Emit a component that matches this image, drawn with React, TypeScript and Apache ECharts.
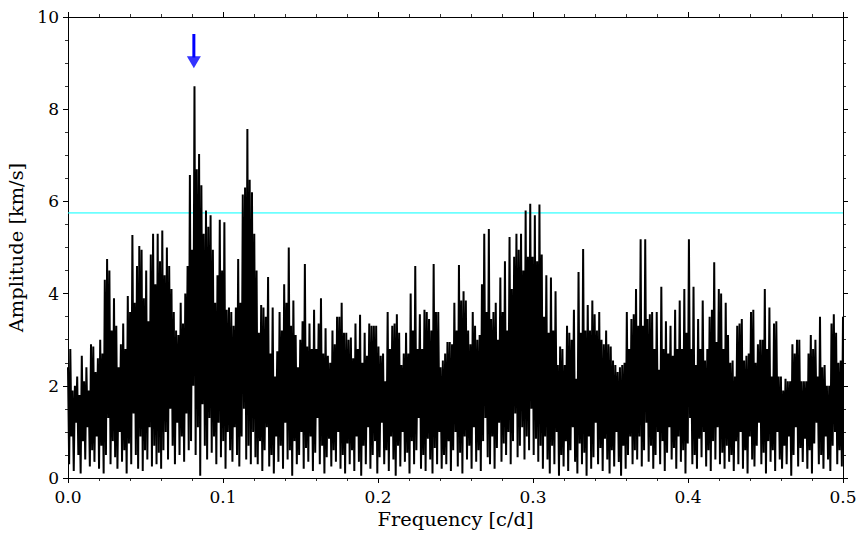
import React, { useEffect, useRef } from "react";
import * as echarts from "echarts";

// Local maxima of the amplitude spectrum (km/s), read left to right, 0 .. 0.5 c/d
const peaks: number[] = [
  // 0.000 - 0.060
  2.4, 2.8, 1.9, 2.0, 2.2, 1.8, 2.65, 2.1, 2.4, 1.9,
  2.9, 2.85, 2.3, 2.6, 3.0, 2.7, 4.3, 4.75, 4.5, 3.2,
  3.9, 3.3, 2.4, 2.9, 3.35, 2.8, 3.95, 3.6, 5.27, 3.8,
  4.6, 5.03, 4.95, 3.9, 4.5, 3.4, 4.85, 5.3, 4.2, 5.3, 4.7,
  // 0.061 - 0.120
  5.37, 4.4, 5.0, 4.6, 4.1, 3.6, 3.2, 3.1, 3.8, 3.35,
  4.0, 4.6, 6.57, 4.95, 8.5, 6.7, 7.03, 6.35, 5.3, 5.8,
  5.45, 5.7, 4.95, 3.8, 4.4, 5.6, 4.5, 5.55, 3.65, 3.7,
  3.6, 3.3, 3.7, 4.75, 3.8, 6.15, 6.3, 7.57, 6.47, 6.2, 5.3,
  // 0.122 - 0.181
  4.5, 3.15, 3.75, 3.7, 3.5, 4.36, 2.7, 3.7, 2.2, 2.75,
  3.6, 3.2, 4.2, 3.8, 5.0, 3.3, 3.85, 3.1, 2.4, 3.0,
  3.4, 4.64, 2.85, 3.35, 2.8, 3.65, 2.8, 3.35, 3.9, 2.7,
  3.25, 2.65, 2.5, 3.2, 2.9, 3.5, 3.5, 3.8, 3.15, 3.15, 3.0,
  // 0.182 - 0.242
  3.05, 2.6, 3.35, 2.8, 3.54, 2.5, 3.15, 2.65, 3.35, 3.3,
  3.3, 3.3, 2.85, 2.65, 2.7, 2.1, 3.6, 2.8, 3.3, 3.35,
  3.55, 3.15, 2.45, 2.7, 3.15, 2.7, 4.0, 3.2, 4.6, 2.8,
  3.55, 2.8, 3.65, 3.6, 3.45, 3.2, 4.64, 3.6, 3.6, 2.4, 2.55,
  // 0.243 - 0.304
  2.7, 2.95, 2.95, 2.9, 3.8, 3.2, 4.62, 3.85, 4.05, 3.85,
  3.2, 2.9, 3.6, 3.3, 3.0, 3.1, 4.2, 5.3, 3.6, 5.4,
  3.45, 3.6, 3.8, 3.0, 4.35, 3.6, 4.7, 3.2, 5.23, 4.1,
  4.8, 5.3, 4.95, 5.3, 4.5, 5.8, 4.8, 5.95, 4.8, 5.7,
  4.7, 5.93,
  // 0.306 - 0.365
  4.85, 3.5, 4.4, 3.15, 4.35, 3.2, 4.05, 2.45, 2.85, 2.8,
  2.45, 3.3, 3.15, 3.0, 3.65, 2.15, 4.47, 3.15, 4.97, 3.2,
  3.75, 3.2, 3.85, 3.55, 3.2, 3.6, 3.0, 2.9, 3.2, 2.9,
  2.85, 2.55, 2.45, 2.3, 2.4, 2.45, 2.5, 3.6, 2.8, 3.45, 3.55,
  // 0.366 - 0.426
  4.1, 3.3, 5.18, 3.3, 5.18, 3.45, 3.55, 3.6, 2.8, 3.6,
  2.35, 4.15, 2.8, 3.4, 2.7, 3.3, 2.65, 3.65, 2.8, 3.85,
  2.8, 4.1, 3.15, 5.18, 2.8, 4.15, 2.45, 3.45, 2.8, 3.85,
  2.55, 2.8, 3.5, 3.65, 4.68, 2.95, 4.1, 4.0, 2.8, 3.8, 3.1,
  // 0.427 - 0.500
  2.5, 2.55, 2.2, 3.3, 3.35, 3.45, 2.55, 2.65, 2.7, 3.6,
  3.65, 2.5, 2.9, 3.0, 3.0, 4.1, 2.8, 3.7, 2.2, 3.35,
  3.4, 2.2, 2.2, 1.9, 2.15, 2.1, 2.1, 2.9, 2.7, 3.0,
  3.0, 2.1, 2.1, 2.1, 2.7, 3.1, 2.8, 3.0, 2.2, 3.5,
  2.4, 2.45, 2.0, 2.0, 3.35, 3.55, 3.15, 2.5, 2.55, 3.5,
];

// Local minima between consecutive maxima (km/s)
const troughs: number[] = [
  0.3, 0.9, 0.15, 1.2, 0.5, 0.1, 0.8, 0.4, 1.1, 0.25,
  0.6, 0.35, 0.9, 0.2, 0.7, 0.1, 0.5, 1.3, 0.3, 0.8,
  0.45, 0.2, 1.0, 0.35, 0.6, 0.1, 0.75, 0.3, 1.4, 0.5,
  0.2, 0.9, 0.15, 0.6, 0.4, 1.1, 0.25, 0.7, 0.3, 0.55, 0.2,

  0.6, 1.0, 0.4, 1.5, 0.7, 0.3, 1.2, 0.5, 0.9, 0.35,
  1.4, 0.6, 0.8, 2.0, 0.5, 1.1, 0.05, 1.6, 0.7, 0.4,
  1.3, 0.55, 0.9, 0.3, 1.2, 0.45, 0.8, 0.2, 1.0, 0.6,
  0.35, 1.1, 0.5, 0.25, 0.9, 1.5, 0.4, 0.7, 0.3, 1.0, 0.45,

  0.3, 0.8, 0.15, 0.6, 1.1, 0.25, 0.5, 0.1, 0.9, 0.35,
  0.7, 0.2, 1.2, 0.4, 0.6, 0.05, 0.8, 0.3, 0.5, 1.0,
  0.2, 0.65, 0.35, 0.9, 0.15, 0.55, 1.3, 0.3, 0.7, 0.1,
  0.45, 0.85, 0.25, 0.6, 0.35, 1.0, 0.2, 0.5, 0.1, 0.75, 0.3,

  0.6, 0.15, 0.9, 0.35, 0.05, 0.7, 0.3, 1.1, 0.2, 0.5,
  0.8, 0.1, 0.45, 1.2, 0.3, 0.6, 0.15, 0.9, 0.4, 0.05,
  0.7, 0.25, 1.0, 0.35, 0.55, 0.1, 0.8, 0.3, 0.6, 1.3,
  0.2, 0.5, 0.15, 0.85, 0.4, 0.1, 0.65, 0.3, 1.0, 0.2, 0.5,

  0.3, 0.8, 0.15, 0.6, 1.0, 0.25, 0.55, 0.1, 0.9, 0.4,
  0.7, 0.2, 1.1, 0.35, 0.6, 0.15, 0.8, 1.3, 0.45, 0.3,
  0.9, 0.2, 0.65, 1.2, 0.35, 0.75, 0.5, 1.0, 0.3, 0.8,
  1.4, 0.45, 0.7, 1.1, 0.4, 0.9, 0.6, 1.5, 0.5, 0.85,
  0.35, 0.7,

  0.2, 0.9, 0.4, 0.1, 0.7, 0.3, 1.0, 0.05, 0.5, 0.25,
  0.8, 0.15, 0.6, 1.1, 0.35, 0.1, 0.75, 0.3, 0.55, 0.05,
  0.9, 0.2, 0.45, 1.2, 0.3, 0.65, 0.15, 0.85, 0.4, 0.1,
  0.6, 0.25, 1.0, 0.35, 0.05, 0.7, 0.2, 0.5, 0.9, 0.3, 0.6,

  0.4, 0.9, 0.25, 0.6, 1.2, 0.35, 0.7, 0.2, 0.5, 1.0,
  0.3, 0.8, 0.15, 0.55, 1.1, 0.4, 0.65, 0.2, 0.9, 0.35,
  0.6, 0.1, 0.75, 1.3, 0.3, 0.5, 0.2, 0.85, 0.45, 1.0,
  0.25, 0.6, 0.15, 0.8, 0.4, 1.1, 0.3, 0.55, 0.2, 0.7, 0.35,

  0.5, 0.15, 0.8, 0.3, 1.0, 0.2, 0.6, 0.1, 0.9, 0.4,
  0.25, 0.7, 1.2, 0.3, 0.55, 0.1, 0.8, 0.35, 0.6, 0.15,
  1.0, 0.4, 0.2, 0.7, 0.3, 0.9, 0.05, 0.5, 1.1, 0.25,
  0.65, 0.35, 0.85, 0.2, 0.6, 0.1, 0.75, 1.2, 0.3, 0.5,
  0.2, 0.9, 0.4, 0.15, 0.7, 1.0, 0.3, 0.6, 0.25,
];

const freqMax = 0.5;
const ampMax = 10;
const xTickStep = 0.1;
const yTickStep = 2;
const threshold = 5.75;
const markedFreq = 0.0812;
const arrowShaft = [9.63, 9.12];
const arrowHead = 9.02;

const FONT = "DejaVu Serif";

export default function App() {
  const ref = useRef<HTMLDivElement>(null);
  useEffect(() => {
    const chart = echarts.init(ref.current!, null, { renderer: "svg" });
    const step = freqMax / (peaks.length - 1);
    const data: number[][] = [];
    peaks.forEach((p, i) => {
      data.push([i * step, p]);
      if (i < troughs.length) data.push([(i + 0.5) * step, troughs[i]]);
    });

    const tick = { show: true, inside: false, length: 5, lineStyle: { color: "#000", width: 1 } };
    const xMinor = { show: true, splitNumber: 5, length: 3, lineStyle: { color: "#000", width: 0.8 } };
    const yMinor = { show: true, splitNumber: 4, length: 3, lineStyle: { color: "#000", width: 0.8 } };
    const line = { show: true, onZero: false, lineStyle: { color: "#000", width: 1 } };
    const tickStyle = { color: "#000", fontFamily: FONT, fontSize: 17 };
    const nameStyle = { color: "#000", fontFamily: FONT, fontSize: 19.4 };

    chart.setOption({
      animation: false,
      grid: {
        left: 68, right: 25, top: 17, bottom: 62,
        containLabel: false, outerBoundsMode: "none",
      },
      xAxis: [
        {
          type: "value", min: 0, max: freqMax, interval: xTickStep, position: "bottom",
          axisLine: line, axisTick: tick, minorTick: xMinor, splitLine: { show: false },
          axisLabel: { ...tickStyle, margin: 10, formatter: (v: number) => v.toFixed(1) },
          name: "Frequency [c/d]", nameLocation: "middle", nameGap: 30,
          nameTextStyle: { ...nameStyle },
        },
        {
          type: "value", min: 0, max: freqMax, interval: xTickStep, position: "top",
          axisLine: line, axisTick: tick, minorTick: xMinor, splitLine: { show: false },
          axisLabel: { show: false },
        },
      ],
      yAxis: [
        {
          type: "value", min: 0, max: ampMax, interval: yTickStep, position: "left",
          axisLine: line, axisTick: tick, minorTick: yMinor, splitLine: { show: false },
          axisLabel: { ...tickStyle, margin: 9 },
          name: "Amplitude [km/s]", nameLocation: "middle", nameGap: 41,
          nameTextStyle: { ...nameStyle },
        },
        {
          type: "value", min: 0, max: ampMax, interval: yTickStep, position: "right",
          axisLine: line, axisTick: tick, minorTick: yMinor, splitLine: { show: false },
          axisLabel: { show: false },
        },
      ],
      series: [
        {
          type: "line", silent: true, showSymbol: false, z: 1,
          data: [[0, threshold], [freqMax, threshold]],
          lineStyle: { color: "#00ffff", width: 1 },
        },
        {
          type: "line", silent: true, showSymbol: false, z: 2,
          data, clip: true,
          lineStyle: { color: "#000", width: 2, join: "miter" },
        },
        {
          type: "line", silent: true, showSymbol: false, z: 3,
          data: arrowShaft.map((a) => [markedFreq, a]),
          lineStyle: { color: "#0000ff", width: 3 },
        },
        {
          type: "scatter", silent: true, z: 3,
          data: [[markedFreq, arrowHead]],
          symbol: "triangle", symbolRotate: 180, symbolSize: [14, 12],
          itemStyle: { color: "#0000ff" },
        },
      ],
    });
    return () => chart.dispose();
  }, []);
  return (
    <div
      ref={ref}
      style={{ position: "fixed", left: 0, top: 0, width: 868, height: 540, background: "#fff" }}
    />
  );
}
